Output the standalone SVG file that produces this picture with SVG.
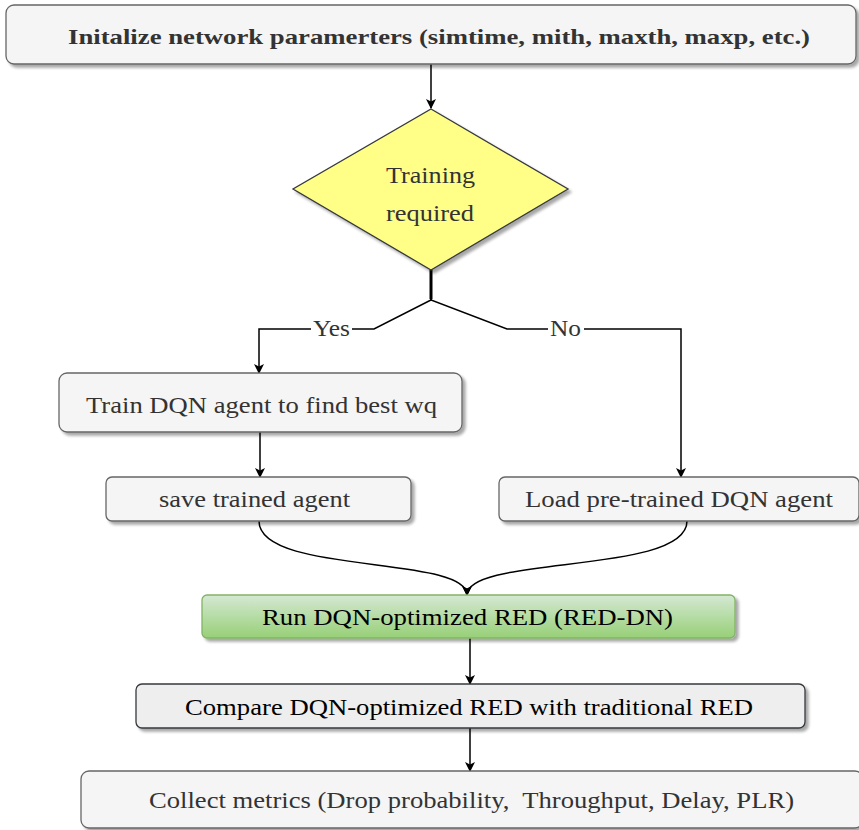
<svg xmlns="http://www.w3.org/2000/svg" width="859" height="830" viewBox="0 0 859 830">
<defs>
<filter id="sh" x="-5%" y="-20%" width="115%" height="160%">
<feGaussianBlur in="SourceAlpha" stdDeviation="1.8"/>
<feOffset dx="3" dy="3" result="b"/>
<feComponentTransfer><feFuncA type="linear" slope="0.35"/></feComponentTransfer>
<feMerge><feMergeNode/><feMergeNode in="SourceGraphic"/></feMerge>
</filter>
<linearGradient id="gg" x1="0" y1="0" x2="0" y2="1">
<stop offset="0" stop-color="#d5e8d4"/>
<stop offset="1" stop-color="#97d077"/>
</linearGradient>
<marker id="arr" viewBox="0 0 10 10" refX="9" refY="5" markerWidth="10" markerHeight="10" markerUnits="userSpaceOnUse" orient="auto">
<path d="M0,0 L10,5 L0,10 L2.5,5 Z" fill="#000"/>
</marker>
</defs>
<style>
.box{fill:#f5f5f5;stroke:#666;stroke-width:1.3}
.t{font-family:"Liberation Serif","Times New Roman",serif;font-size:23px;fill:#333;white-space:pre}
.b{font-weight:bold;font-size:22px}
.e{fill:none;stroke:#000;stroke-width:1.5}
.lbl{fill:#fff}
</style>
<g id="connectors">
<path class="e" d="M431,64 L431,108" marker-end="url(#arr)"/>
<path class="e" d="M431,270 L431,300 L374,329 L259,329 L259,373" marker-end="url(#arr)"/>
<path class="e" d="M431,270 L431,300 L507,329 L681,329 L681,477" marker-end="url(#arr)"/>
<path d="M431,270 L431,299" stroke="#000" stroke-width="3"/>
<rect class="lbl" x="311" y="320" width="41" height="18"/>
<text class="t" x="313" y="336" textLength="37" lengthAdjust="spacingAndGlyphs">Yes</text>
<rect class="lbl" x="548" y="320" width="36" height="18"/>
<text class="t" x="550" y="336" textLength="31" lengthAdjust="spacingAndGlyphs">No</text>
<path class="e" d="M260,432 L260,477" marker-end="url(#arr)"/>
<path class="e" d="M259,521 C259,575 467,555 467,595" marker-end="url(#arr)"/>
<path class="e" d="M687,521 C687,575 467,555 467,595" marker-end="url(#arr)"/>
<path class="e" d="M470,638 L470,684" marker-end="url(#arr)"/>
<path class="e" d="M470,728 L470,771" marker-end="url(#arr)"/>
</g>
<g id="init">
<rect class="box" x="6" y="5" width="850" height="59" rx="8" filter="url(#sh)"/>
<text class="t b" x="68" y="44" textLength="742" lengthAdjust="spacingAndGlyphs">Initalize network paramerters (simtime, mith, maxth, maxp, etc.)</text>
</g>
<g id="decision">
<polygon points="431,109 568,189 431,270 293,189" fill="#ffff88" stroke="#36393d" stroke-width="1.3" filter="url(#sh)"/>
<text class="t" x="386" y="183" textLength="89" lengthAdjust="spacingAndGlyphs">Training</text>
<text class="t" x="386" y="221" textLength="88" lengthAdjust="spacingAndGlyphs">required</text>
</g>
<g id="train">
<rect class="box" x="59" y="373" width="403" height="59" rx="8" filter="url(#sh)"/>
<text class="t" x="86" y="413" textLength="351" lengthAdjust="spacingAndGlyphs">Train DQN agent to find best wq</text>
</g>
<g id="save">
<rect class="box" x="106" y="477" width="305" height="44" rx="6" filter="url(#sh)"/>
<text class="t" x="159" y="507" textLength="191" lengthAdjust="spacingAndGlyphs">save trained agent</text>
</g>
<g id="load">
<rect class="box" x="499" y="477" width="360" height="44" rx="6" filter="url(#sh)"/>
<text class="t" x="525" y="507" textLength="308" lengthAdjust="spacingAndGlyphs">Load pre-trained DQN agent</text>
</g>
<g id="run">
<rect x="202" y="595" width="533" height="43" rx="5" fill="url(#gg)" stroke="#82b366" stroke-width="1.3" filter="url(#sh)"/>
<text class="t" x="262" y="625" textLength="411" lengthAdjust="spacingAndGlyphs" style="fill:#000">Run DQN-optimized RED (RED-DN)</text>
</g>
<g id="compare">
<rect x="136" y="684" width="669" height="44" rx="6" fill="#eeeeee" stroke="#36393d" stroke-width="1.3" filter="url(#sh)"/>
<text class="t" x="185" y="715" textLength="568" lengthAdjust="spacingAndGlyphs" style="fill:#000">Compare DQN-optimized RED with traditional RED</text>
</g>
<g id="collect">
<rect class="box" x="81" y="771" width="782" height="57" rx="8" filter="url(#sh)"/>
<text class="t" x="149" y="808" textLength="645" lengthAdjust="spacingAndGlyphs">Collect metrics (Drop probability,  Throughput, Delay, PLR)</text>
</g>
</svg>
